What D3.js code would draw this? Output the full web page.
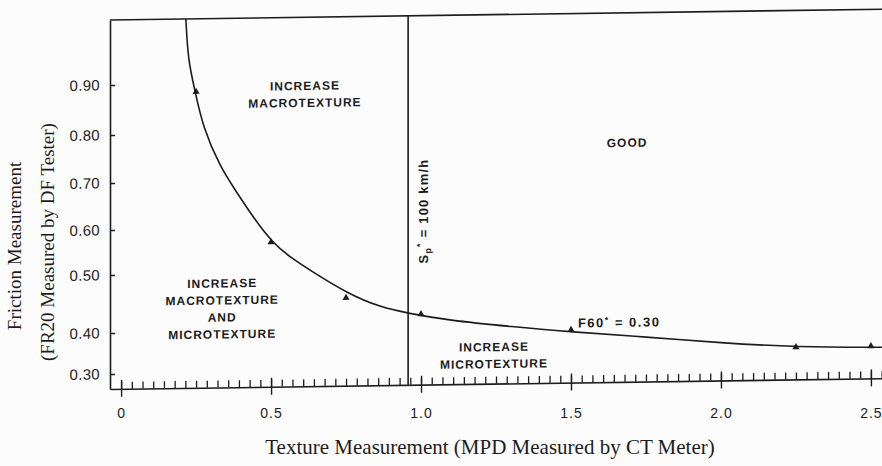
<!DOCTYPE html>
<html>
<head>
<meta charset="utf-8">
<script src="https://cdn.jsdelivr.net/npm/d3@7"></script>
<style>
  html, body { margin: 0; padding: 0; background: #fcfcfc; }
  svg { display: block; }
</style>
</head>
<body>
<div id="chart"></div>
<script>
// Axis ticks
const xTickValues = [0, 0.5, 1.0, 1.5, 2.0, 2.5];
const xTickLabels = ["0", "0.5", "1.0", "1.5", "2.0", "2.5"];
const yTickValues = [0.30, 0.40, 0.50, 0.60, 0.70, 0.80, 0.90];
const yTickLabels = ["0.30", "0.40", "0.50", "0.60", "0.70", "0.80", "0.90"];

// F60* = 0.30 curve (MPD, FR20)
const curveMPD  = [0.216, 0.223, 0.247, 0.273, 0.330, 0.387, 0.440, 0.503, 0.563, 0.640, 0.753, 0.863, 0.957, 1.087, 1.307, 1.497, 1.753, 1.997, 2.257, 2.537];
const curveFR20 = [1.030, 0.948, 0.884, 0.813, 0.730, 0.675, 0.623, 0.568, 0.534, 0.500, 0.463, 0.438, 0.427, 0.414, 0.401, 0.387, 0.372, 0.355, 0.342, 0.339];

// measured points marked on the curve
const pointMPD  = [0.25, 0.50, 0.75, 1.00, 1.50, 2.25, 2.50];
const pointFR20 = [0.884, 0.568, 0.455, 0.425, 0.392, 0.342, 0.342];

// Sp* = 100 km/h boundary
const spMPD = 0.957;

// region labels
const regionText = [
    ["INCREASE", "MACROTEXTURE"],
    ["GOOD"],
    ["INCREASE", "MACROTEXTURE", "AND", "MICROTEXTURE"],
    ["INCREASE", "MICROTEXTURE"]
];
const regionMPD  = [0.613, 1.687, 0.337, 1.243];
const regionFR20 = [0.893, 0.769, 0.483, 0.353];

const width = 882;
const height = 466;
const ink = "#1c1c1c";

const svg = d3.select("#chart")
    .append("svg")
    .attr("width", width)
    .attr("height", height);

// X scale: MPD
const xScale = d3.scaleLinear()
    .domain([-0.037, 2.537])
    .range([110, 882]);

// Y scale: FR20 (the printed axis is not evenly spaced)
const yScale = d3.scaleLinear()
    .domain([0.263, 0.30, 0.40, 0.50, 0.60, 0.70, 0.80, 0.90, 1.03])
    .range([389, 374, 333, 275, 230, 183, 135, 85, 20]);

// the scanned figure is slightly sheared
const plot = svg.append("g")
    .attr("transform", "translate(110,0) skewY(-0.8) translate(-110,0)");

// top border
plot.append("line")
    .attr("x1", xScale(-0.037)).attr("x2", xScale(2.537) + 10)
    .attr("y1", yScale(1.03)).attr("y2", yScale(1.03))
    .attr("stroke", ink).attr("stroke-width", 1.6);

// Y axis (ticks point inward)
const yAxis = plot.append("g")
    .attr("transform", `translate(${xScale(-0.037)},0)`)
    .call(d3.axisLeft(yScale)
        .tickValues(yTickValues)
        .tickFormat((d, i) => yTickLabels[i])
        .tickSizeInner(-5)
        .tickSizeOuter(0)
        .tickPadding(10));
yAxis.select(".domain").attr("stroke", ink).attr("stroke-width", 1.6);
yAxis.selectAll(".tick line").attr("stroke", ink).attr("stroke-width", 1.4);
yAxis.selectAll("text")
    .attr("fill", ink)
    .attr("font-family", "'Liberation Sans', Arial, sans-serif")
    .attr("font-size", "15px")
    .attr("letter-spacing", "0.3px");

// X axis: major ticks below, minor ticks above
const minorTicks = d3.range(0, 2.54, 0.5 / 14);
const xMinor = plot.append("g")
    .attr("transform", `translate(0,${yScale(0.263)})`)
    .call(d3.axisTop(xScale)
        .tickValues(minorTicks)
        .tickFormat("")
        .tickSizeInner(7)
        .tickSizeOuter(0));
xMinor.select(".domain").attr("stroke", ink).attr("stroke-width", 1.6);
xMinor.selectAll(".tick line").attr("stroke", ink).attr("stroke-width", 1.3);

const xMajor = plot.append("g")
    .attr("transform", `translate(0,${yScale(0.263)})`)
    .call(d3.axisBottom(xScale)
        .tickValues(xTickValues)
        .tickFormat("")
        .tickSizeInner(8)
        .tickSizeOuter(0));
xMajor.select(".domain").remove();
xMajor.selectAll(".tick line")
    .attr("y1", -9)
    .attr("stroke", ink).attr("stroke-width", 1.4);

// X tick labels (not sheared in the scan)
const xLabels = svg.append("g")
    .attr("transform", `translate(0,${yScale(0.263)})`)
    .call(d3.axisBottom(xScale)
        .tickValues(xTickValues)
        .tickFormat((d, i) => xTickLabels[i])
        .tickSize(0)
        .tickPadding(19));
xLabels.select(".domain").remove();
xLabels.selectAll("text")
    .attr("fill", ink)
    .attr("font-family", "'Liberation Sans', Arial, sans-serif")
    .attr("font-size", "14px")
    .attr("letter-spacing", "1px");

// Sp* = 100 km/h line
plot.append("line")
    .attr("x1", xScale(spMPD)).attr("x2", xScale(spMPD))
    .attr("y1", yScale(1.03)).attr("y2", yScale(0.263))
    .attr("stroke", ink).attr("stroke-width", 1.6);

// F60* curve
const curveData = curveMPD.map((d, i) => [d, curveFR20[i]]);
plot.append("path")
    .datum(curveData)
    .attr("fill", "none")
    .attr("stroke", ink)
    .attr("stroke-width", 1.6)
    .attr("d", d3.line()
        .x(d => xScale(d[0]))
        .y(d => yScale(d[1]))
        .curve(d3.curveBasis));

// data points
plot.selectAll("path.pt")
    .data(pointMPD.map((d, i) => [d, pointFR20[i]]))
    .enter().append("path")
    .attr("class", "pt")
    .attr("transform", d => `translate(${xScale(d[0])},${yScale(d[1])})`)
    .attr("d", d3.symbol().type(d3.symbolTriangle).size(22))
    .attr("fill", ink);

// region labels
const labelFont = "'Liberation Sans', Arial, sans-serif";
regionText.forEach((lines, i) => {
    const t = plot.append("text")
        .attr("x", xScale(regionMPD[i]))
        .attr("y", yScale(regionFR20[i]))
        .attr("text-anchor", "middle")
        .attr("font-family", labelFont)
        .attr("font-size", "12px")
        .attr("font-weight", "bold")
        .attr("letter-spacing", "1px")
        .attr("fill", ink);
    lines.forEach((s, j) => {
        t.append("tspan")
            .attr("x", xScale(regionMPD[i]))
            .attr("dy", j === 0 ? "0.35em" : "17px")
            .text(s);
    });
});

// F60* = 0.30 label
const f60 = plot.append("text")
    .attr("x", xScale(1.523))
    .attr("y", yScale(0.406))
    .attr("dy", "0.35em")
    .attr("font-family", labelFont)
    .attr("font-size", "13px")
    .attr("font-weight", "bold")
    .attr("letter-spacing", "1.5px")
    .attr("fill", ink);
f60.append("tspan").text("F60");
f60.append("tspan").attr("dy", "-4").attr("font-size", "9px").text("*");
f60.append("tspan").attr("dy", "4").text(" = 0.30");

// Sp* = 100 km/h label (rotated)
const sp = plot.append("text")
    .attr("transform", `translate(${xScale(1.007)},${yScale(0.631)}) rotate(-90)`)
    .attr("text-anchor", "middle")
    .attr("dy", "0.35em")
    .attr("font-family", labelFont)
    .attr("font-size", "13px")
    .attr("font-weight", "bold")
    .attr("letter-spacing", "1.2px")
    .attr("fill", ink);
sp.append("tspan").text("S");
sp.append("tspan").attr("dy", "3").attr("font-size", "9px").text("p");
sp.append("tspan").attr("dy", "-8").attr("font-size", "9px").text("*");
sp.append("tspan").attr("dy", "5").text(" = 100 km/h");

// Axis titles
const titleFont = "'Liberation Serif', 'Times New Roman', serif";
svg.append("text")
    .attr("x", 490)
    .attr("y", 454)
    .attr("text-anchor", "middle")
    .attr("font-family", titleFont)
    .attr("font-size", "21px")
    .attr("fill", ink)
    .text("Texture Measurement (MPD Measured by CT Meter)");

svg.append("text")
    .attr("transform", "translate(21,246) rotate(-90)")
    .attr("text-anchor", "middle")
    .attr("font-family", titleFont)
    .attr("font-size", "19px")
    .attr("fill", ink)
    .text("Friction Measurement");

svg.append("text")
    .attr("transform", "translate(54,242) rotate(-90)")
    .attr("text-anchor", "middle")
    .attr("font-family", titleFont)
    .attr("font-size", "19px")
    .attr("fill", ink)
    .text("(FR20 Measured by DF Tester)");
</script>
</body>
</html>
